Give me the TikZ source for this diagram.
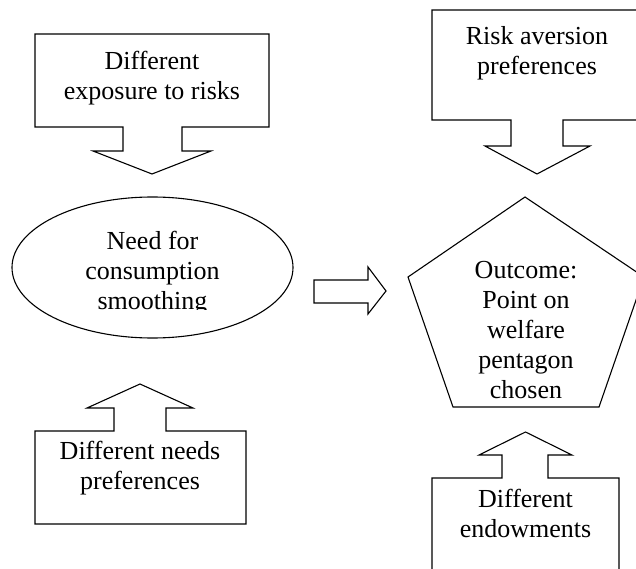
\documentclass[tikz,border=0pt]{standalone}
\usepackage{fontspec}
\setmainfont{Liberation Serif}
\usetikzlibrary{shapes.geometric}
\begin{document}
\begin{tikzpicture}[x=1pt,y=-1pt,line width=1.1pt,line join=miter,
  lbl/.style={align=center,font=\fontsize{26}{30}\selectfont,inner sep=0pt},
  shp/.style={draw=black,line width=1.1pt}]
\useasboundingbox (0,0) rectangle (636,569);
\clip (0,0) rectangle (636,569);
% top-left callout
\draw[shp] (35,34) -- (269,34) -- (269,127) -- (182,127) -- (182,151) -- (211,151)
  -- (152,174) coordinate (tlTip) -- (93,151) -- (123,151) -- (123,127) -- (35,127) -- cycle;
\node[lbl] (tlText) at (152,78) {Different\\exposure to risks};
% top-right callout
\draw[shp] (432,10) -- (642,10) -- (642,120) -- (563,120) -- (563,146) -- (590,146)
  -- (537,174) coordinate (trTip) -- (485,146) -- (511,146) -- (511,120) -- (432,120) -- cycle;
\node[lbl] (trText) at (537,53) {Risk aversion\\preferences};
% ellipse
\node[shp,ellipse,minimum width=281pt,minimum height=141pt,inner sep=0pt] (ell) at (152.5,267.5) {};
\begin{scope}
\clip (0,200) rectangle (300,309);
\node[lbl] (ellText) at (152.5,273) {Need for\\consumption\\smoothing};
\end{scope}
% middle arrow
\draw[shp] (314,280) -- (368,280) -- (368,267) -- (386,291) coordinate (midTip)
  -- (368,314) -- (368,303) -- (314,303) -- cycle;
% pentagon
\draw[shp] (525,197) coordinate (pTop) -- (644,277) -- (599,407) -- (453,407) -- (408,277) -- cycle;
\node[lbl] (pText) at (526,330) {Outcome:\\Point on\\welfare\\pentagon\\chosen};
% bottom-left callout
\draw[shp] (35,524) -- (246,524) -- (246,431) -- (166,431) -- (166,408) -- (193,408)
  -- (140,384) coordinate (blTip) -- (87,408) -- (114,408) -- (114,431) -- (35,431) -- cycle;
\node[lbl] (blText) at (140,468) {Different needs\\preferences};
% bottom-right callout
\draw[shp] (432,600) -- (432,478) -- (502,478) -- (502,455) -- (479,455)
  -- (525.5,432) coordinate (brTip) -- (572,455) -- (548,455) -- (548,478) -- (619,478) -- (619,600);
\node[lbl] (brText) at (525.5,513) {Different\\endowments};
\end{tikzpicture}
\end{document}
